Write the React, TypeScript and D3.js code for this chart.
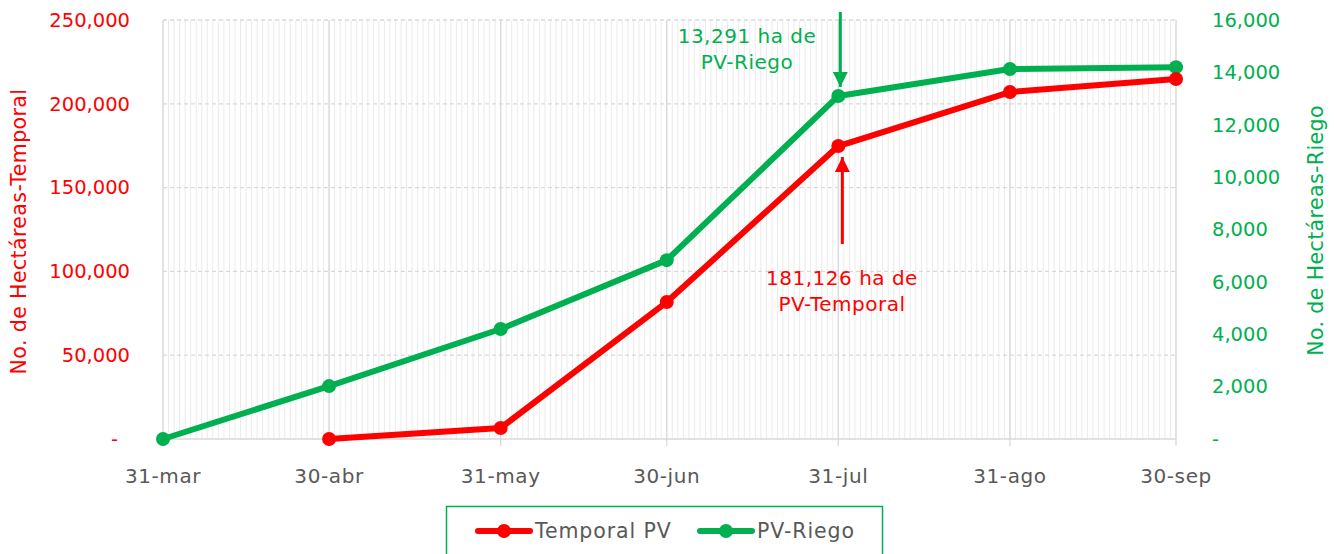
import React, { useRef, useEffect } from 'react';
import * as d3 from 'd3';

const dates = ['2021-03-31', '2021-04-30', '2021-05-31', '2021-06-30', '2021-07-31', '2021-08-31', '2021-09-30'];
const dateLabels = ['31-mar', '30-abr', '31-may', '30-jun', '31-jul', '31-ago', '30-sep'];
// Temporal PV starts at 30-abr (null = no value)
const temporal: (number | null)[] = [null, 0, 6600, 81700, 174800, 207000, 214800];
const riego: number[] = [0, 2020, 4200, 6830, 13100, 14130, 14200];
const leftTicks = [0, 50000, 100000, 150000, 200000, 250000];
const rightTicks = [0, 2000, 4000, 6000, 8000, 10000, 12000, 14000, 16000];

const RED = '#ff0000';
const GREEN = '#00b050';
const FONT = 'DejaVu Sans, sans-serif';

const W = 1334;
const H = 554;
const m = { left: 163, right: 1176, top: 20, bottom: 439 };

export default function App() {
  const ref = useRef<SVGSVGElement>(null);

  useEffect(() => {
    const svg = d3.select(ref.current);
    svg.selectAll('*').remove();
    const parse = d3.utcParse('%Y-%m-%d');
    const ds = dates.map((d) => parse(d) as Date);

    const x = d3.scaleUtc().domain([ds[0], ds[ds.length - 1]]).range([m.left, m.right]);
    const yL = d3.scaleLinear().domain([0, 250000]).range([m.bottom, m.top]);
    const yR = d3.scaleLinear().domain([0, 16000]).range([m.bottom, m.top]);
    const fmt = (v: number) => (v === 0 ? '-' : d3.format(',')(v));

    // daily minor gridlines
    const days = d3.utcDay.range(ds[0], d3.utcDay.offset(ds[ds.length - 1], 1));
    svg.append('g')
      .selectAll('line')
      .data(days)
      .join('line')
      .attr('x1', (d) => x(d))
      .attr('x2', (d) => x(d))
      .attr('y1', m.top)
      .attr('y2', m.bottom)
      .style('stroke', '#ebebeb')
      .style('stroke-width', 1);

    // month major gridlines + ticks
    svg.append('g')
      .selectAll('line')
      .data(ds)
      .join('line')
      .attr('x1', (d) => x(d))
      .attr('x2', (d) => x(d))
      .attr('y1', m.top)
      .attr('y2', m.bottom + 7)
      .style('stroke', '#d9d9d9')
      .style('stroke-width', 1.3);

    // horizontal dashed gridlines
    svg.append('g')
      .selectAll('line')
      .data(leftTicks.filter((t) => t > 0))
      .join('line')
      .attr('x1', m.left)
      .attr('x2', m.right)
      .attr('y1', (d) => yL(d))
      .attr('y2', (d) => yL(d))
      .style('stroke', '#d9d9d9')
      .style('stroke-width', 1.3)
      .style('stroke-dasharray', '4,3');

    // x axis line
    svg.append('line')
      .attr('x1', m.left).attr('x2', m.right)
      .attr('y1', m.bottom).attr('y2', m.bottom)
      .style('stroke', '#d9d9d9').style('stroke-width', 1.5);

    // left tick labels
    svg.append('g')
      .selectAll('text')
      .data(leftTicks)
      .join('text')
      .attr('x', (d) => (d === 0 ? 118 : 130))
      .attr('y', (d) => yL(d))
      .attr('dy', '0.35em')
      .attr('text-anchor', 'end')
      .style('font-family', FONT)
      .style('font-size', '19.5px')
      .style('fill', RED)
      .text(fmt);

    // right tick labels
    svg.append('g')
      .selectAll('text')
      .data(rightTicks)
      .join('text')
      .attr('x', 1212)
      .attr('y', (d) => yR(d))
      .attr('dy', '0.35em')
      .attr('text-anchor', 'start')
      .style('font-family', FONT)
      .style('font-size', '19.5px')
      .style('fill', GREEN)
      .text(fmt);

    // x labels
    svg.append('g')
      .selectAll('text')
      .data(ds)
      .join('text')
      .attr('x', (d) => x(d))
      .attr('y', 476)
      .attr('dy', '0.35em')
      .attr('text-anchor', 'middle')
      .style('font-family', FONT)
      .style('font-size', '20px')
      .style('letter-spacing', '0.6px')
      .style('fill', '#595959')
      .text((d, i) => dateLabels[i]);

    // axis titles
    svg.append('text')
      .attr('transform', `translate(26,${(m.top + m.bottom) / 2 + 2}) rotate(-90)`)
      .attr('text-anchor', 'middle')
      .style('font-family', FONT)
      .style('font-size', '20.5px')
      .style('letter-spacing', '0.4px')
      .style('fill', RED)
      .text('No. de Hectáreas-Temporal');
    svg.append('text')
      .attr('transform', `translate(1323,${(m.top + m.bottom) / 2 + 1}) rotate(-90)`)
      .attr('text-anchor', 'middle')
      .style('font-family', FONT)
      .style('font-size', '20.5px')
      .style('letter-spacing', '0.4px')
      .style('fill', GREEN)
      .text('No. de Hectáreas-Riego');

    // series
    const tData = ds.map((d, i) => ({ d, v: temporal[i] })).filter((p) => p.v !== null) as { d: Date; v: number }[];
    const rData = ds.map((d, i) => ({ d, v: riego[i] }));

    const lineL = d3.line<{ d: Date; v: number }>().x((p) => x(p.d)).y((p) => yL(p.v));
    const lineR = d3.line<{ d: Date; v: number }>().x((p) => x(p.d)).y((p) => yR(p.v));

    svg.append('path').attr('d', lineR(rData)).style('fill', 'none')
      .style('stroke', GREEN).style('stroke-width', 6).style('stroke-linejoin', 'round');
    svg.append('g').selectAll('circle').data(rData).join('circle')
      .attr('cx', (p) => x(p.d)).attr('cy', (p) => yR(p.v)).attr('r', 7).style('fill', GREEN);

    svg.append('path').attr('d', lineL(tData)).style('fill', 'none')
      .style('stroke', RED).style('stroke-width', 6).style('stroke-linejoin', 'round');
    svg.append('g').selectAll('circle').data(tData).join('circle')
      .attr('cx', (p) => x(p.d)).attr('cy', (p) => yL(p.v)).attr('r', 7).style('fill', RED);

    // annotations
    const jul = x(ds[4]);
    const defs = svg.append('defs');
    const marker = (id: string, color: string) =>
      defs.append('marker').attr('id', id).attr('viewBox', '0 0 10 10')
        .attr('refX', 10).attr('refY', 5).attr('markerWidth', 5).attr('markerHeight', 5)
        .attr('markerUnits', 'strokeWidth').attr('orient', 'auto')
        .append('path').attr('d', 'M0,0 L10,5 L0,10 z').style('fill', color);
    marker('arrG', GREEN);
    marker('arrR', RED);

    svg.append('line')
      .attr('x1', jul + 2).attr('x2', jul + 2)
      .attr('y1', 12).attr('y2', yR(riego[4]) - 9)
      .style('stroke', GREEN).style('stroke-width', 3)
      .attr('marker-end', 'url(#arrG)');
    svg.append('line')
      .attr('x1', jul + 4).attr('x2', jul + 4)
      .attr('y1', 244).attr('y2', yL(temporal[4] as number) + 11)
      .style('stroke', RED).style('stroke-width', 3)
      .attr('marker-end', 'url(#arrR)');

    const note = (lines: string[], cx: number, cy: number, color: string) => {
      const t = svg.append('text')
        .attr('text-anchor', 'middle')
        .style('font-family', FONT)
        .style('font-size', '20px')
        .style('letter-spacing', '0.5px')
        .style('fill', color);
      lines.forEach((l, i) => {
        t.append('tspan').attr('x', cx).attr('y', cy + i * 26).attr('dy', '0.35em').text(l);
      });
    };
    note(['13,291 ha de', 'PV-Riego'], 747, 36, GREEN);
    note(['181,126 ha de', 'PV-Temporal'], 842, 278, RED);

    // legend
    const lg = svg.append('g');
    lg.append('rect').attr('x', 446.5).attr('y', 506.5).attr('width', 436).attr('height', 60)
      .style('fill', 'white').style('stroke', GREEN).style('stroke-width', 1.5);
    const items = [
      { label: 'Temporal PV', color: RED, x0: 478 },
      { label: 'PV-Riego', color: GREEN, x0: 700 },
    ];
    items.forEach((it) => {
      lg.append('line').attr('x1', it.x0).attr('x2', it.x0 + 52).attr('y1', 531).attr('y2', 531)
        .style('stroke', it.color).style('stroke-width', 6).style('stroke-linecap', 'round');
      lg.append('circle').attr('cx', it.x0 + 26).attr('cy', 531).attr('r', 7).style('fill', it.color);
      lg.append('text').attr('x', it.x0 + 57).attr('y', 531).attr('dy', '0.35em')
        .style('font-family', FONT).style('font-size', '20.5px').style('letter-spacing', '0.9px')
        .style('fill', '#595959')
        .text(it.label);
    });
  }, []);

  return (
    <div style={{ position: 'absolute', left: 0, top: 0, width: W, height: H, background: 'white' }}>
      <svg ref={ref} width={W} height={H} />
    </div>
  );
}
